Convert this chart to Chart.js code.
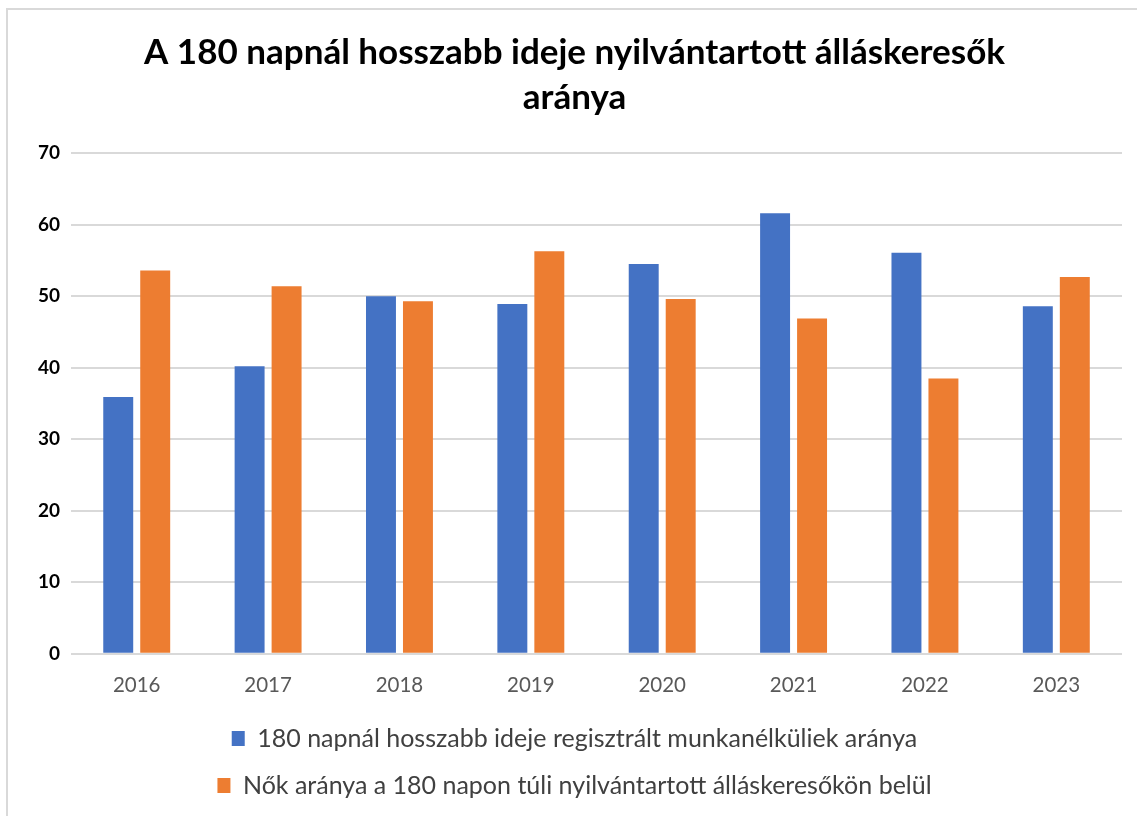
<!doctype html>
<html lang="hu">
  <head>
    <meta charset="UTF-8">
    <title>A 180 napnál hosszabb ideje nyilvántartott álláskeresők aránya</title>
    <style>
      html, body { margin:0; padding:0; background:#fff; overflow:hidden; }
      #frame {
        position:absolute; left:6px; top:8px;
        width:1131px; height:808px;
        border-top:2px solid #d9d9d9; border-left:2px solid #d9d9d9;
      }
    </style>
  </head>
  <body>
    <div id="frame">
      <canvas id="chart" width="1129" height="806"></canvas>
    </div>

    <script src="https://cdn.jsdelivr.net/npm/chart.js@4.4.0/dist/chart.umd.min.js"></script>
    <script>
      // data
      const years = ['2016', '2017', '2018', '2019', '2020', '2021', '2022', '2023'];
      const longTerm = [35.9, 40.2, 50.0, 48.9, 54.5, 61.6, 56.1, 48.6];
      const womenShare = [53.6, 51.4, 49.3, 56.3, 49.6, 46.9, 38.5, 52.7];
      const yTicks = [0, 10, 20, 30, 40, 50, 60, 70];

      const fam = "Lato, 'Open Sans', sans-serif";

      new Chart(document.getElementById('chart'), {
        type: 'bar',
        data: {
          labels: years,
          datasets: [
            {
              label: '180 napnál hosszabb ideje regisztrált munkanélküliek aránya',
              data: longTerm,
              backgroundColor: '#4472C4',
              categoryPercentage: 0.563,
              barPercentage: 0.81
            },
            {
              label: 'Nők aránya a 180 napon túli nyilvántartott álláskeresőkön belül',
              data: womenShare,
              backgroundColor: '#ED7D31',
              categoryPercentage: 0.563,
              barPercentage: 0.81
            }
          ]
        },
        options: {
          responsive: false,
          animation: false,
          layout: { padding: { left: 19, right: 15, top: 0, bottom: 8 } },
          scales: {
            x: {
              grid: { display: false },
              border: { display: false },
              ticks: { color: '#595959', font: { family: fam, size: 20.5, lineHeight: 0.75 }, padding: 16 },
              // pull the plot down a bit closer to the legend, as in the original
              afterFit: axis => { axis.height -= 5; }
            },
            y: {
              min: yTicks[0],
              max: yTicks[yTicks.length - 1],
              afterBuildTicks: axis => { axis.ticks = yTicks.map(v => ({ value: v })); },
              grid: { color: '#d9d9d9', lineWidth: 2, drawTicks: false },
              border: { display: false },
              ticks: { color: '#000', font: { family: fam, size: 19, weight: 'bold' }, padding: 11 }
            }
          },
          plugins: {
            title: {
              display: true,
              text: ['A 180 napnál hosszabb ideje nyilvántartott álláskeresők', 'aránya'],
              color: '#000',
              font: { family: fam, size: 35, weight: 'bold', lineHeight: 1.29 },
              padding: { top: 20, bottom: 33 }
            },
            legend: {
              position: 'bottom',
              labels: {
                color: '#404040',
                font: { family: fam, size: 25 },
                boxWidth: 13,
                boxHeight: 15,
                padding: 22
              }
            },
            tooltip: { enabled: false }
          }
        }
      });
    </script>
  </body>
</html>
